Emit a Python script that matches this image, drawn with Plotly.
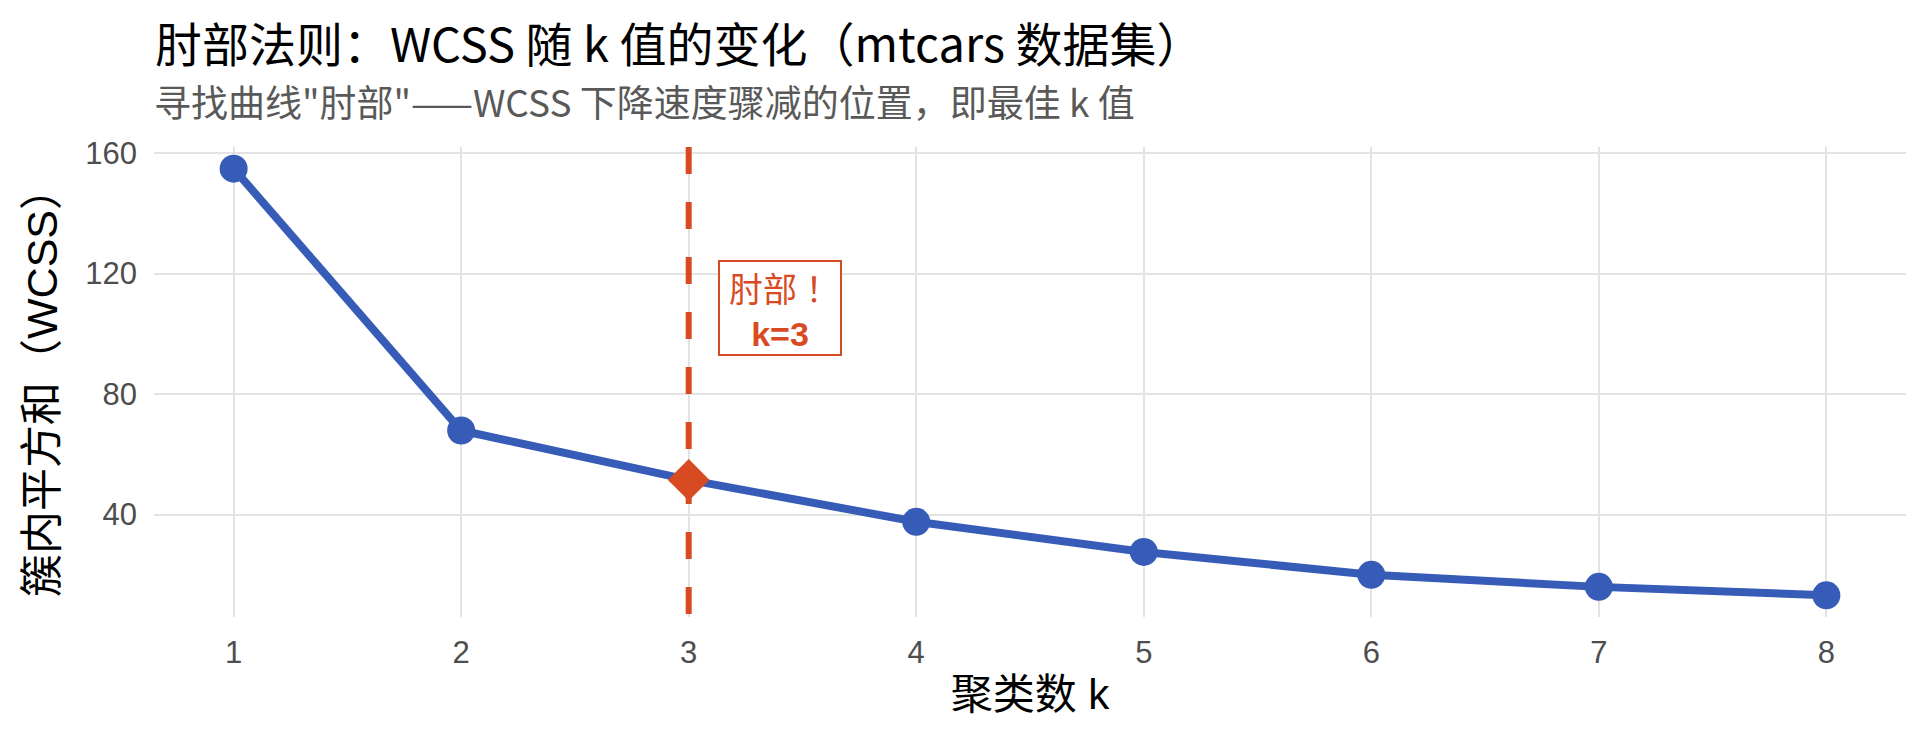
import plotly.graph_objects as go

# elbow method data (mtcars)
k_values = [1, 2, 3, 4, 5, 6, 7, 8]
wcss = [154.8, 67.9, 51.5, 37.6, 27.6, 20.0, 16.0, 13.2]
elbow_k = 3
y_ticks = [40, 80, 120, 160]

blue = "#375CB7"
red = "#D84A22"
cjk = "Noto Sans CJK SC"
latin = "Liberation Sans, Noto Sans CJK SC"

fig = go.Figure()

# dashed vertical line at the elbow
fig.add_shape(type="line", xref="x", yref="paper", x0=elbow_k, x1=elbow_k, y0=1, y1=0,
              line=dict(color=red, width=6, dash="27px,28px"), layer="above")

fig.add_trace(go.Scatter(x=k_values, y=wcss, mode="lines+markers",
                         line=dict(color=blue, width=8),
                         marker=dict(color=blue, size=28),
                         hoverinfo="skip"))

i = k_values.index(elbow_k)
fig.add_trace(go.Scatter(x=[k_values[i]], y=[wcss[i]], mode="markers",
                         marker=dict(color=red, size=32, symbol="diamond"),
                         hoverinfo="skip"))

fig.add_annotation(x=elbow_k + 0.4, y=108.4, xref="x", yref="y",
                   text="肘部！<br><b><span style='font-family:Liberation Sans;font-size:34px'>k=3</span></b>",
                   showarrow=False, width=108, height=80,
                   font=dict(family="Noto Sans CJK TC", size=34, color=red),
                   bordercolor=red, borderwidth=2, borderpad=6,
                   bgcolor="white", align="center", valign="middle")

# subtitle
fig.add_annotation(x=0, y=1.097, xref="paper", yref="paper", xanchor="left", yanchor="middle",
                   xshift=-2,
                   text="寻找曲线\"肘部\"——WCSS 下降速度骤减的位置，即最佳 k 值",
                   showarrow=False, font=dict(family=cjk, size=37, color="#595959"))

fig.update_layout(
    width=1920, height=729,
    paper_bgcolor="white", plot_bgcolor="white",
    showlegend=False,
    margin=dict(l=146, r=22, t=139, b=120),
    title=dict(text="肘部法则：WCSS 随 k 值的变化（mtcars 数据集）",
               x=147 / 1920, xref="container", xanchor="left",
               y=1 - 38 / 729, yref="container", yanchor="middle",
               font=dict(family=cjk, size=47, color="black")),
)

fig.update_xaxes(range=[0.65, 8.35], tickvals=k_values, showgrid=True, automargin=False,
                 gridcolor="#E3E3E3", gridwidth=2, zeroline=False, showline=False,
                 tickfont=dict(family=latin, size=31, color="#4D4D4D"),
                 ticklabelstandoff=14,
                 title=dict(text="聚类数 k", standoff=10,
                            font=dict(family=latin, size=42, color="black")))
fig.update_yaxes(range=[6, 162], tickvals=y_ticks, showgrid=True, automargin=False,
                 gridcolor="#E3E3E3", gridwidth=2, zeroline=False, showline=False,
                 tickfont=dict(family=latin, size=31, color="#4D4D4D"),
                 ticklabelstandoff=16,
                 title=dict(text="簇内平方和（WCSS）", standoff=14,
                            font=dict(family=latin, size=43, color="black")))

fig.write_html("out.html")
